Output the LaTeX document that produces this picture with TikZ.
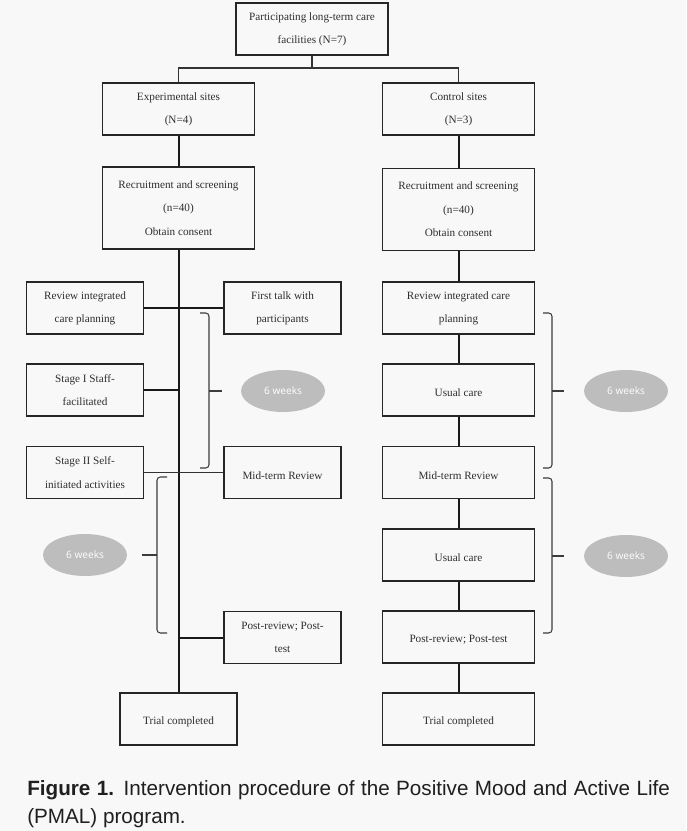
\documentclass[tikz,border=0pt]{standalone}
\usepackage{fontspec}
\setmainfont{Liberation Serif}
\newfontfamily\capfont{Liberation Sans}
\newfontfamily\ovalfont{Open Sans}
\usetikzlibrary{shapes.geometric}
\usetikzlibrary{positioning}

\definecolor{pagebg}{HTML}{F8F8F8}
\definecolor{ovalgray}{HTML}{BDBDBD}
\definecolor{boxtext}{HTML}{2E2E2E}
\definecolor{bracegray}{HTML}{3C3C3C}

\tikzset{
  box/.style={draw=black!85,line width=0.9pt,text=boxtext,align=center,inner sep=0pt,
    font=\fontsize{8.4}{17.5}\selectfont,minimum height=39pt,
    execute at begin node={\rule{0pt}{10pt}}},
  narrowbox/.style={box,minimum width=87.75pt},
  widebox/.style={box,minimum width=114pt},
  link/.style={draw=black!90,line width=1.5pt},
  thinlink/.style={draw=black!80,line width=0.8pt},
  bracket/.style={draw=bracegray,line width=0.8pt,rounded corners=2.5pt},
  oval/.style={ellipse,fill=ovalgray,text=white,inner sep=0pt,minimum width=63pt,
    minimum height=31.5pt,font=\ovalfont\fontsize{7.6}{9}\selectfont}
}

\begin{document}
\begin{tikzpicture}[x=0.75pt,y=-0.75pt]
\fill[pagebg] (0,0) rectangle (686,831);
\useasboundingbox (0,0) rectangle (686,831);

\node[widebox] (sites) at (312,29) {Participating long-term care\\facilities (N=7)};
\node[widebox] (expsites) at (178.5,109) {Experimental sites\\(N=4)};
\node[widebox] (ctrlsites) at (458.5,109) {Control sites\\(N=3)};
\node[widebox,minimum height=61.5pt] (exprecruit) at (178.5,208) {Recruitment and screening\\(n=40)\\Obtain consent};
\node[widebox,minimum height=61.5pt] (ctrlrecruit) at (458.5,209.5) {Recruitment and screening\\(n=40)\\Obtain consent};

% experimental arm
\node[narrowbox] (expreview) at (85,308) {Review integrated\\care planning};
\node[narrowbox] (firsttalk) at (282.5,308) {First talk with\\participants};
\node[narrowbox] (stageone) at (85,390) {Stage I Staff-\\facilitated};
\node[narrowbox] (stagetwo) at (85,472.5) {Stage II Self-\\initiated activities};
\node[narrowbox] (expmid) at (282.5,472.5) {Mid-term Review};
\node[narrowbox] (exppost) at (282.5,637.5) {Post-review; Post-\\test};
\node[narrowbox] (exptrial) at (178.5,719) {Trial completed};

% control arm
\node[widebox] (ctrlreview) at (458.5,308) {Review integrated care\\planning};
\node[widebox] (ctrlusualA) at (458.5,390) {Usual care};
\node[widebox] (ctrlmid) at (458.5,472.5) {Mid-term Review};
\node[widebox] (ctrlusualB) at (458.5,555) {Usual care};
\node[widebox] (ctrlpost) at (458.5,637) {Post-review; Post-test};
\node[widebox] (ctrltrial) at (458.5,719) {Trial completed};

\node[oval] (weeksA) at (283,391) {6 weeks};
\node[oval] (weeksB) at (85,555) {6 weeks};
\node[oval] (weeksC) at (626,391) {6 weeks};
\node[oval] (weeksD) at (626,556) {6 weeks};

\coordinate (split) at (312,68);
\draw[thinlink] (sites) -- (split);
\draw[thinlink] (expsites.north) |- (split) -| (ctrlsites.north);
\draw[link] (expsites) -- (exprecruit);
\draw[link] (exprecruit) -- (exptrial);
\draw[link] (expreview) -- (firsttalk);
\draw[link] (stageone.east) -- (stageone.east -| exprecruit.south);
\draw[thinlink] (stagetwo) -- (expmid);
\draw[link] (exppost.west) -- (exppost.west -| exprecruit.south);

\draw[link] (ctrlsites) -- (ctrlrecruit);
\foreach \a/\b in {ctrlrecruit/ctrlreview,ctrlreview/ctrlusualA,ctrlusualA/ctrlmid,
  ctrlmid/ctrlusualB,ctrlusualB/ctrlpost,ctrlpost/ctrltrial}
  \draw[link] (\a) -- (\b);

% brackets for the two 6-week periods
\draw[bracket] (200,313) -| (209,468) -- (200,468);
\draw[bracket,rounded corners=0pt] (209,391) -- (222,391);
\draw[bracket] (167,477) -| (157,633) -- (167,633);
\draw[bracket,rounded corners=0pt] (157,555) -- (142,555);
\draw[bracket] (543,313) -| (552,468) -- (543,468);
\draw[bracket,rounded corners=0pt] (552,391) -- (564,391);
\draw[bracket] (543,478) -| (552,633) -- (543,633);
\draw[bracket,rounded corners=0pt] (552,556) -- (564,556);

\node[anchor=base west,inner sep=0pt,text=black!88,font=\capfont\fontsize{15.5}{18}\selectfont] (caption) at (27,795)
  {\makebox[482pt][s]{\textbf{Figure 1.} Intervention procedure of the Positive Mood and Active Life}};
\node[anchor=base west,inner sep=0pt,text=black!88,font=\capfont\fontsize{15.5}{18}\selectfont] (captiontwo) at (27,823)
  {(PMAL) program.};
\end{tikzpicture}
\end{document}
